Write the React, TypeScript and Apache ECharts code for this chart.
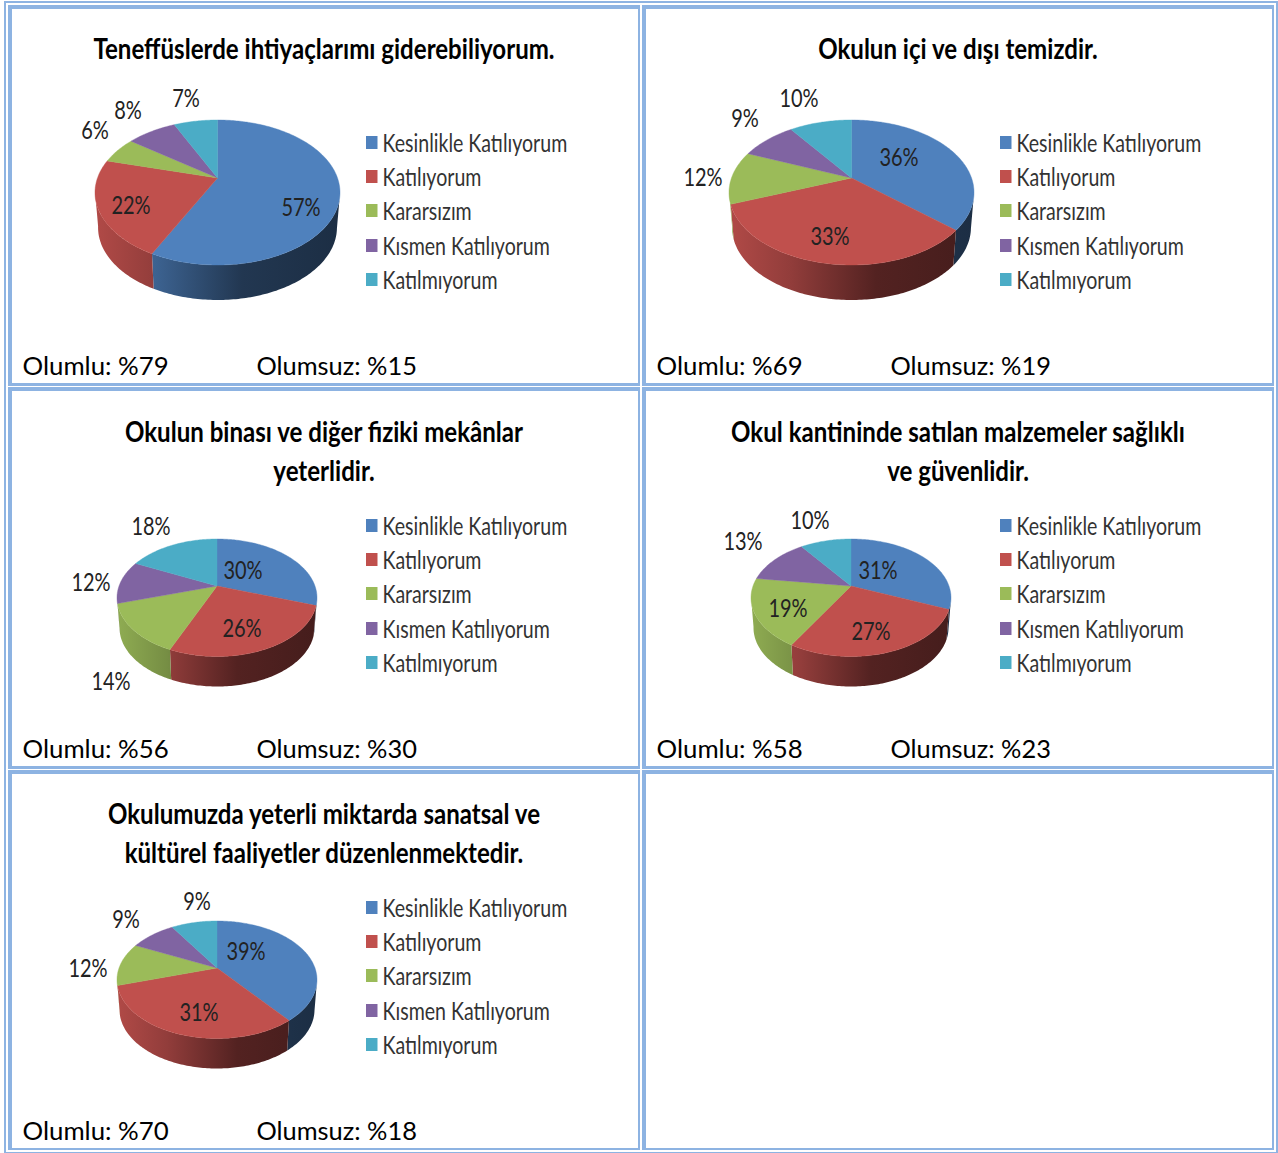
import React, { useEffect, useRef } from "react";
import * as echarts from "echarts";

const categories = ["Kesinlikle Katılıyorum", "Katılıyorum", "Kararsızım", "Kısmen Katılıyorum", "Katılmıyorum"];
const colors = ["#4f81bd", "#c0504d", "#9bbb59", "#8064a2", "#4bacc6"];

const values1 = [57, 22, 6, 8, 7];
const values2 = [36, 33, 12, 9, 10];
const values3 = [30, 26, 14, 12, 18];
const values4 = [31, 27, 19, 13, 10];
const values5 = [39, 31, 12, 9, 9];

const titles1 = ["Teneffüslerde ihtiyaçlarımı giderebiliyorum."];
const titles2 = ["Okulun içi ve dışı temizdir."];
const titles3 = ["Okulun binası ve diğer fiziki mekânlar", "yeterlidir."];
const titles4 = ["Okul kantininde satılan malzemeler sağlıklı", "ve güvenlidir."];
const titles5 = ["Okulumuzda yeterli miktarda sanatsal ve", "kültürel faaliyetler düzenlenmektedir."];

const positives = ["Olumlu: %79", "Olumlu: %69", "Olumlu: %56", "Olumlu: %58", "Olumlu: %70"];
const negatives = ["Olumsuz: %15", "Olumsuz: %19", "Olumsuz: %30", "Olumsuz: %23", "Olumsuz: %18"];

// Layout only (no data): panel origin, pie ellipse geometry and label anchors.
const layouts = [
  { ox: 0, oy: 0, cx: 217.5, apex: 178, top: 120, rx: 122.5, depth: 35, labels: [[301, 207], [131, 205], [95, 130], [128, 110], [186, 98]] },
  { ox: 634, oy: 0, cx: 851.5, apex: 178, top: 120, rx: 122.5, depth: 35, labels: [[899, 157], [830, 236], [703, 177], [745, 118], [799, 98]] },
  { ox: 0, oy: 383, cx: 217, apex: 586, top: 539, rx: 100, depth: 30, labels: [[243, 570], [242, 628], [111, 681], [91, 582], [151, 526]] },
  { ox: 634, oy: 383, cx: 851, apex: 586, top: 539, rx: 100, depth: 30, labels: [[878, 570], [871, 631], [788, 608], [743, 541], [810, 520]] },
  { ox: 0, oy: 765, cx: 217, apex: 968, top: 921, rx: 100, depth: 30, labels: [[246, 951], [199, 1012], [88, 968], [126, 919], [197, 901]] },
];
const allValues = [values1, values2, values3, values4, values5];
const allTitles = [titles1, titles2, titles3, titles4, titles5];

const K = 0.2;
const WALL_FROM = 101.5;
const WALL_TO = 258.5;
const BORDER = "#8db3e2";
const FONT = "Lato, Carlito, sans-serif";

function shade(hex: string, f: number) {
  const n = parseInt(hex.slice(1), 16);
  const c = [(n >> 16) & 255, (n >> 8) & 255, n & 255].map((v) => Math.round(v * f));
  return `rgb(${c[0]},${c[1]},${c[2]})`;
}

function rim(l: any, deg: number) {
  const t0 = (deg * Math.PI) / 180;
  // slight angular warp of the tilted projection: none at the top, most at the front
  const t = t0 + ((1.5 * Math.PI) / 180) * ((1 - Math.cos(t0)) / 2);
  const X = Math.sin(t);
  const Y = Math.cos(t);
  const w = 1 + K * Y;
  const sx = l.rx / 1.0206;
  const sy = (l.apex - l.top) * (1 + K);
  return [l.cx + (sx * X) / w, l.apex - (sy * Y) / w];
}

function arcPts(l: any, a: number, b: number) {
  const pts: number[][] = [];
  const n = Math.max(2, Math.ceil(b - a));
  for (let i = 0; i <= n; i++) pts.push(rim(l, a + ((b - a) * i) / n));
  return pts;
}

function pieSeries(values: number[], l: any, idx: number) {
  const total = values.reduce((s, v) => s + v, 0);
  return {
    type: "custom",
    name: `pie${idx}`,
    coordinateSystem: "none",
    silent: true,
    clip: false,
    data: values.map((v) => [v]),
    renderItem: (params: any, api: any) => {
      const i = params.dataIndex;
      const v = api.value(0);
      const before = values.slice(0, i).reduce((s, x) => s + x, 0);
      const a = (before / total) * 360;
      const b = ((before + v) / total) * 360;
      const col = colors[i];
      const children: any[] = [];
      const wa = Math.max(a, WALL_FROM);
      const wb = Math.min(b, WALL_TO);
      if (wb > wa) {
        const upper = arcPts(l, wa, wb);
        const lower = upper
          .map(([x, y]) => [l.cx + (x - l.cx) * 0.975, y + l.depth])
          .reverse();
        children.push({
          type: "polygon",
          shape: { points: upper.concat(lower) },
          style: {
            fill: new echarts.graphic.LinearGradient(
              l.cx - l.rx, 0, l.cx + l.rx, 0,
              [
                { offset: 0, color: shade(col, 0.92) },
                { offset: 0.25, color: shade(col, 0.76) },
                { offset: 0.6, color: shade(col, 0.43) },
                { offset: 1, color: shade(col, 0.36) },
              ],
              true,
            ),
          },
        });
      }
      children.push({
        type: "polygon",
        shape: { points: [[l.cx, l.apex], ...arcPts(l, a, b)] },
        style: { fill: col, stroke: col, lineWidth: 0.4 },
      });
      const [lx, ly] = l.labels[i];
      children.push({
        type: "text",
        x: lx,
        y: ly - 0.5,
        scaleX: 0.8,
        z2: 10,
        style: {
          text: `${v}%`,
          x: 0,
          y: 0,
          fill: "#222",
          fontFamily: FONT,
          fontSize: 25,
          align: "center",
          verticalAlign: "middle",
        },
      });
      return { type: "group", children };
    },
  };
}

function txt(text: string, x: number, y: number, o: any = {}) {
  return {
    type: "text",
    x,
    y,
    scaleX: o.scaleX ?? 1,
    z: 20,
    style: {
      text,
      x: 0,
      y: 0,
      fill: o.fill ?? "#000",
      fontFamily: FONT,
      fontSize: o.size ?? 24,
      fontWeight: o.weight ?? "normal",
      align: o.align ?? "left",
      verticalAlign: "middle",
    },
  };
}

function box(x0: number, y0: number, x1: number, y1: number, fill: string, z: number) {
  return { type: "rect", z, shape: { x: x0, y: y0, width: x1 - x0, height: y1 - y0 }, style: { fill } };
}

const cellCols = [
  { l: 8, li: 12, r: 640, ri: 638 },
  { l: 642, li: 646, r: 1274, ri: 1272 },
];
const cellRows = [
  { t: 5, ti: 9, b: 386, bi: 383 },
  { t: 387, ti: 391, b: 769, bi: 766 },
  { t: 770, ti: 774, b: 1150, bi: 1148 },
];

function buildGraphic() {
  const els: any[] = [];
  els.push(box(4, 1, 1278, 1160, BORDER, 1));
  els.push(box(6, 3, 1276, 1152, "#fff", 2));
  cellRows.forEach((r) =>
    cellCols.forEach((c) => {
      els.push(box(c.l, r.t, c.r, r.b, BORDER, 3));
      els.push(box(c.li, r.ti, c.ri, r.bi, "#fff", 4));
    }),
  );
  layouts.forEach((l, p) => {
    const lines = allTitles[p];
    const tc = 324 + l.ox;
    const ty = lines.length === 1 ? 48.5 : l.oy + 48.5;
    lines.forEach((s, i) =>
      els.push(txt(s, tc, ty + i * 39, { align: "center", weight: "bold", size: 28, scaleX: 0.86 })),
    );
    const rowY = [142.5, 176.5, 210.5, 245.5, 279.5];
    categories.forEach((c, i) => {
      const y = rowY[i] + l.oy;
      els.push({
        type: "rect",
        z: 20,
        shape: { x: 366 + l.ox, y: y - 6.5, width: 11.5, height: 13 },
        style: { fill: colors[i] },
      });
      els.push(txt(c, 382.5 + l.ox, y, { size: 25, scaleX: 0.783, fill: "#333" }));
    });
    const fy = 365 + l.oy;
    els.push(txt(positives[p], 22.5 + l.ox, fy, { size: 25.8 }));
    els.push(txt(negatives[p], 256.5 + l.ox, fy, { size: 25.4 }));
  });
  return els;
}

export default function App() {
  const ref = useRef<HTMLDivElement>(null);
  useEffect(() => {
    const chart = echarts.init(ref.current!, undefined, { renderer: "svg" });
    chart.setOption({
      animation: false,
      backgroundColor: "#fff",
      graphic: { elements: buildGraphic() },
      series: allValues.map((v, i) => ({ ...pieSeries(v, layouts[i], i), z: 10 })),
    });
    return () => chart.dispose();
  }, []);
  return (
    <div
      ref={ref}
      style={{ position: "fixed", left: 0, top: 0, width: 1278, height: 1153, background: "#fff" }}
    />
  );
}
